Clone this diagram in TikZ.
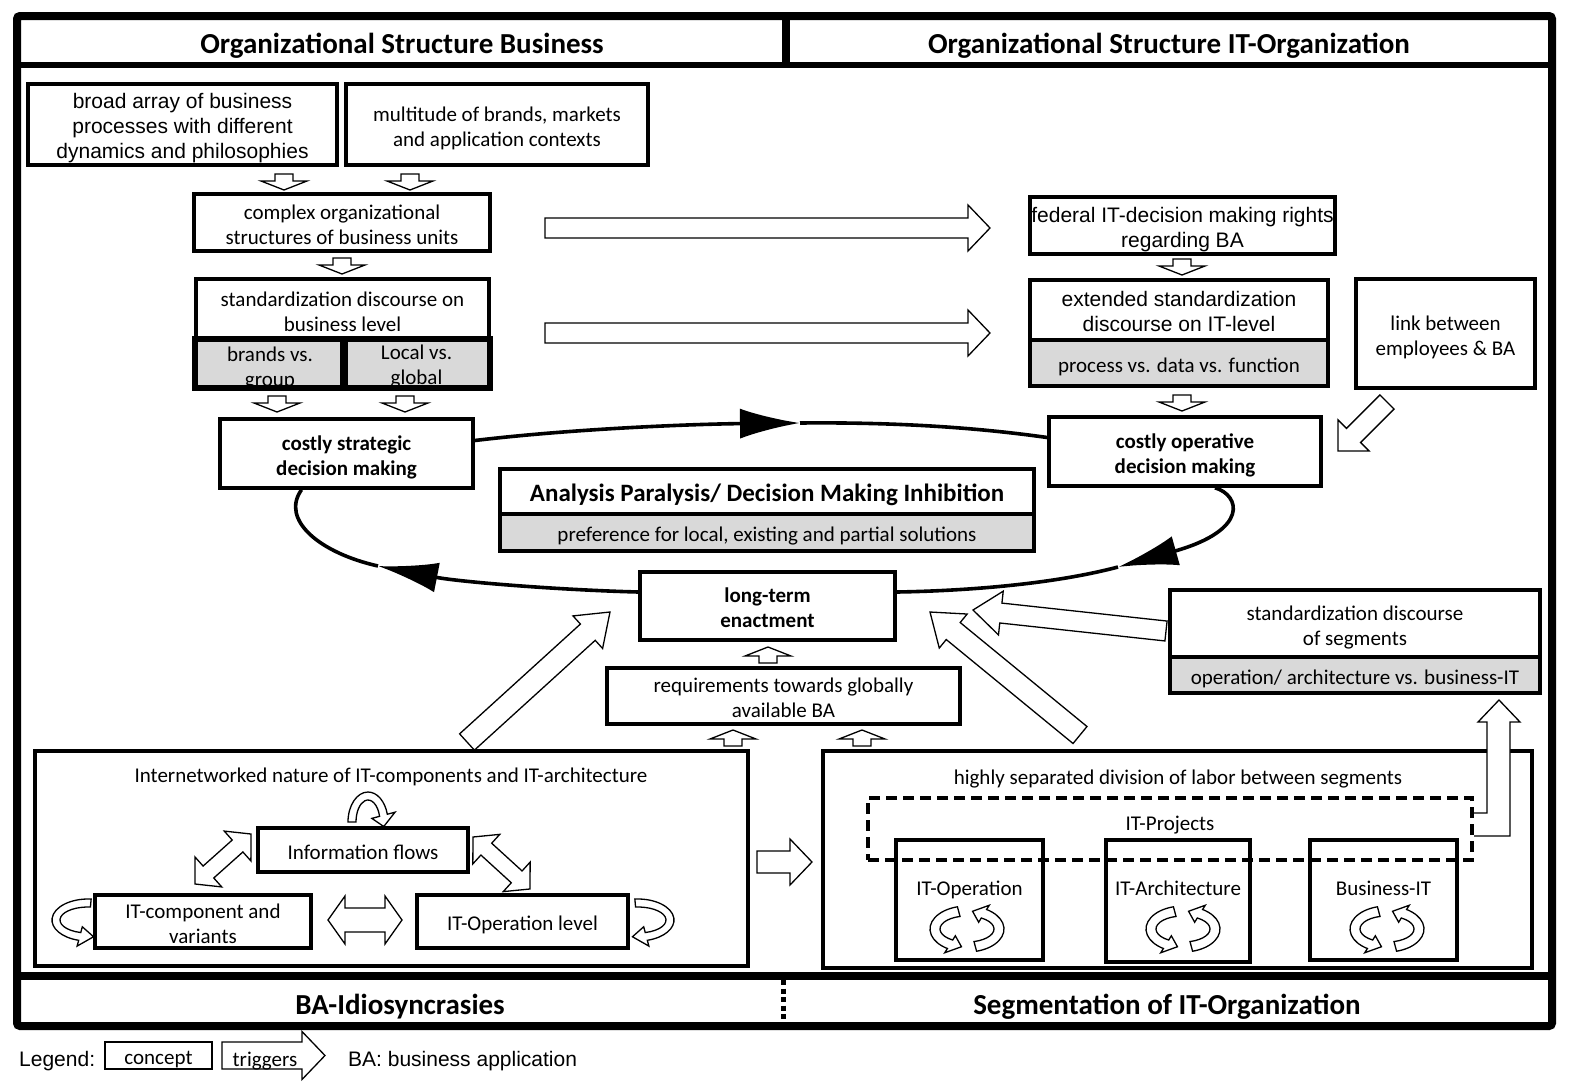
\documentclass[tikz,border=0pt]{standalone}
\usepackage{fontspec}
\setmainfont{Carlito}
\newfontfamily\arialf{Liberation Sans}
\usetikzlibrary{arrows.meta,decorations.markings,calc}
\definecolor{gbg}{RGB}{217,217,217}
\newcommand\fA{\fontsize{21}{25}\selectfont}
\newcommand\fH{\bfseries\fontsize{29}{32}\selectfont}
\newcommand\dn[1]{\raisebox{-4pt}[\height][\depth]{\begin{tabular}{@{}c@{}}#1\end{tabular}}}
\tikzset{
 bx/.style={draw, line width=3.6, fill=white, inner sep=0, align=center, font=\fA},
 gbx/.style={bx, fill=gbg},
 ttl/.style={inner sep=0, align=center, font=\fA},
 loopline/.style={line width=3.6},
 barrow/.style n args={3}{decoration={markings, mark=at position 0 with {\draw[line width=1.3pt, fill=white, line join=miter] (0pt,-#1) -- ({\pgfdecoratedpathlength-#3},-#1) -- ({\pgfdecoratedpathlength-#3},-#2) -- (\pgfdecoratedpathlength,0pt) -- ({\pgfdecoratedpathlength-#3},#2) -- ({\pgfdecoratedpathlength-#3},#1) -- (0pt,#1) -- cycle;}}, postaction={decorate}},
 dbarrow/.style n args={3}{decoration={markings, mark=at position 0 with {\draw[line width=1.3pt, fill=white, line join=miter] (0pt,0pt) -- (#3,#2) -- (#3,#1) -- ({\pgfdecoratedpathlength-#3},#1) -- ({\pgfdecoratedpathlength-#3},#2) -- (\pgfdecoratedpathlength,0pt) -- ({\pgfdecoratedpathlength-#3},-#2) -- ({\pgfdecoratedpathlength-#3},-#1) -- (#3,-#1) -- (#3,-#2) -- cycle;}}, postaction={decorate}},
}
% curved hollow arrow: cx, cy, rx, ry, half thickness, start angle, end angle, tip delta, head ext
\newcommand{\carr}[9]{%
 \begin{scope}[shift={(#1,#2)}]
 \draw[line width=1.3, fill=white]
   (#6:{#3+#5} and {#4+#5}) arc[start angle=#6, end angle=#7, x radius={#3+#5}, y radius={#4+#5}]
   -- (#7:{#3+#5+#9} and {#4+#5+#9})
   -- ({#7+#8}:#3 and #4)
   -- (#7:{#3-#5-#9} and {#4-#5-#9})
   -- (#7:{#3-#5} and {#4-#5})
   arc[start angle=#7, end angle=#6, x radius={#3-#5}, y radius={#4-#5}] -- cycle;
 \end{scope}}
\newcommand{\cyc}[2]{%
 \carr{#1}{#2}{32}{18}{5}{105}{238}{22}{5}
 \carr{#1}{#2}{32}{18}{5}{-75}{58}{22}{5}}
\begin{document}
\begin{tikzpicture}[x=1pt,y=1pt]
\useasboundingbox (0,0) rectangle (1569,-1084);
\fill[white] (0,0) rectangle (1569,-1084);
% frame
\draw[line width=8, rounded corners=3] (17,-16) rectangle (1552,-1026);
\draw[line width=6] (17,-65) -- (1552,-65);
\draw[line width=8] (786,-16) -- (786,-65);
\draw[line width=8] (17,-976) -- (1552,-976);
\draw[line width=5, dash pattern=on 5 off 3.5] (783,-980) -- (783,-1022);
\node[inner sep=0, font=\fH] (h1) at (402,-43) {\dn{Organizational Structure Business}};
\node[inner sep=0, font=\fH] (h2) at (1169,-43) {\dn{Organizational Structure IT-Organization}};
\node[inner sep=0, font=\fH] (h3) at (400,-1004) {\dn{BA-Idiosyncrasies}};
\node[inner sep=0, font=\fH] (h4) at (1167,-1004) {\dn{Segmentation of IT-Organization}};

% business side
\node[bx, font=\arialf\fA, minimum width=309, minimum height=81] (b1) at (182.5,-124.5) {\dn{broad array of business\\processes with different\\dynamics and philosophies}};
\node[bx, minimum width=302, minimum height=81] (b2) at (497,-124.5) {\dn{multitude of brands, markets\\and application contexts}};
\node[bx, minimum width=296, minimum height=57] (b3) at (342,-222.5) {\dn{complex organizational\\structures of business units}};
\node[bx, minimum width=293, minimum height=61] (b4) at (342.5,-309.5) {\dn{standardization discourse on\\business level}};
\node[gbx, minimum width=148, minimum height=47] (b4l) at (270,-363.5) {};
\node[gbx, minimum width=145, minimum height=47] (b4r) at (416.5,-363.5) {};
\begin{scope}
\clip (b4l.south west) rectangle (b4r.north east);
\node[ttl] (t4l) at (270,-369) {brands vs.\\group};
\node[ttl] (t4r) at (416.5,-367) {Local vs.\\global};
\end{scope}
\draw[line width=3.6] (b4l.south west) rectangle (b4l.north east);
\draw[line width=3.6] (b4r.south west) rectangle (b4r.north east);
\node[bx, font=\bfseries\fA, minimum width=253, minimum height=69] (b5) at (346.5,-453.5) {\dn{costly strategic\\decision making}};

% IT side
\node[bx, font=\arialf\fA, minimum width=305, minimum height=57] (b6) at (1182.5,-225.5) {\dn{federal IT-decision making rights\\regarding BA}};
\node[bx, font=\arialf\fA, minimum width=298, minimum height=60] (b7) at (1179,-310) {\dn{extended standardization\\discourse on IT-level}};
\node[gbx, minimum width=298, minimum height=46] (b7g) at (1179,-363) {\dn{process vs. data vs. function}};
\node[bx, minimum width=179, minimum height=109] (b8) at (1445.5,-333.5) {\dn{link between\\employees \& BA}};
\node[bx, font=\bfseries\fA, minimum width=272, minimum height=69] (b9) at (1185,-451.5) {\dn{costly operative\\decision making}};

% center
\node[bx, font=\bfseries\fontsize{25}{28}\selectfont, minimum width=534, minimum height=45] (b10) at (767,-491.5) {\dn{Analysis Paralysis/ Decision Making Inhibition}};
\node[gbx, minimum width=534, minimum height=37] (b10g) at (767,-532.5) {\dn{preference for local, existing and partial solutions}};
\node[bx, font=\bfseries\fA, minimum width=255, minimum height=68] (b11) at (767.5,-606) {\dn{long-term\\enactment}};
\node[bx, minimum width=353, minimum height=56] (b12) at (783.5,-696) {\dn{requirements towards globally\\available BA}};
\node[bx, minimum width=370, minimum height=67] (b13) at (1355,-623.5) {\dn{standardization discourse\\of segments}};
\node[gbx, minimum width=370, minimum height=36] (b13g) at (1355,-675) {\dn{operation/ architecture vs. business-IT}};

% loop
\draw[loopline, -{Latex[length=60pt,width=30pt]}] ([yshift=13]b5.east) .. controls (580,-428) and (700,-424) .. (800,-423);
\draw[loopline] (800,-423) .. controls (900,-422) and (980,-428) .. ([yshift=14]b9.west);
\draw[loopline, -{Latex[length=60pt,width=30pt]}] ([xshift=30]b9.south) .. controls (1240,-495) and (1250,-530) .. (1118,-567);
\draw[loopline] (1118,-567) .. controls (1050,-585) and (960,-591) .. ([yshift=14]b11.east);
\draw[loopline, -{Latex[length=60pt,width=30pt]}] ([yshift=14]b11.west) .. controls (560,-590) and (460,-582) .. (378,-566);
\draw[loopline] (378,-566) .. controls (320,-553) and (280,-520) .. ([xshift=-45]b5.south);

% bottom left box
\node[draw, line width=3.4, minimum width=713, minimum height=215] (L) at (391.5,-858.5) {};
\node[ttl] (Lt) at (391,-773) {\dn{Internetworked nature of IT-components and IT-architecture}};
\node[bx, minimum width=210, minimum height=44] (inf) at (363,-850) {\dn{Information flows}};
\node[bx, minimum width=216, minimum height=53] (itc) at (203,-921.5) {\dn{IT-component and\\variants}};
\node[bx, minimum width=211, minimum height=53] (ito) at (522.5,-921.5) {\dn{IT-Operation level}};
\carr{368}{-822}{16}{26}{4}{180}{15}{-25}{8}
\carr{88}{-920}{32}{17}{4}{85}{255}{25}{6}
\carr{638}{-920}{32}{17}{4}{95}{-75}{-25}{6}
\path[dbarrow={8pt}{20pt}{18pt}] (195,-884) -- (251,-834);
\path[dbarrow={8pt}{20pt}{18pt}] (473,-837) -- (530,-889);
\path[dbarrow={12pt}{24pt}{17pt}] (328,-920) -- (402,-920);

% bottom right box
\node[draw, line width=3.4, minimum width=709, minimum height=217] (R) at (1177.5,-859.5) {};
\node[ttl] (Rt) at (1178,-775) {\dn{highly separated division of labor between segments}};
\node[bx, minimum width=147, minimum height=120] (s1) at (969.5,-900) {};
\node[bx, minimum width=144, minimum height=122] (s2) at (1178,-901) {};
\node[bx, minimum width=147, minimum height=120] (s3) at (1383.5,-900) {};
\node[draw, line width=3.6, dash pattern=on 11 off 6, minimum width=604, minimum height=62] (D) at (1170,-829) {};
\node[ttl] (Dt) at (1170,-821) {\dn{IT-Projects}};
\node[ttl] (s1t) at (969.5,-886) {\dn{IT-Operation}};
\node[ttl] (s2t) at (1178,-886) {\dn{IT-Architecture}};
\node[ttl] (s3t) at (1383.5,-886) {\dn{Business-IT}};
\cyc{967}{-929}
\cyc{1183}{-929}
\cyc{1387}{-929}
\draw[line width=1.3, fill=white, line join=miter] (1474,-813) -- (1487,-813) -- (1487,-722) -- (1478,-722) -- (1499,-700) -- (1520,-722) -- (1510,-722) -- (1510,-836) -- (1474,-836);

% trigger arrows
\path[barrow={9pt}{23pt}{9pt}] (284,-174) -- (284,-190);
\path[barrow={9pt}{23pt}{9pt}] (410,-174) -- (410,-190);
\path[barrow={9pt}{23pt}{9pt}] (342,-258) -- (342,-274);
\path[barrow={9pt}{23pt}{9pt}] (277,-396) -- (277,-412);
\path[barrow={9pt}{23pt}{9pt}] (405,-396) -- (405,-412);
\path[barrow={9pt}{23pt}{9pt}] (1182,-259) -- (1182,-275);
\path[barrow={9pt}{23pt}{9pt}] (1182,-395) -- (1182,-411);
\path[barrow={9pt}{23pt}{9pt}] (768,-663) -- (768,-647);
\path[barrow={9pt}{23pt}{9pt}] (733,-746) -- (733,-730);
\path[barrow={9pt}{23pt}{9pt}] (862,-746) -- (862,-730);
\path[barrow={10pt}{23pt}{22pt}] (545,-228) -- (990,-228);
\path[barrow={10pt}{23pt}{22pt}] (545,-333) -- (990,-333);
\path[barrow={10pt}{22pt}{22pt}] (1387,-402) -- (1338,-451);
\path[barrow={10pt}{22pt}{28pt}] (1166,-631) -- (973,-610);
\path[barrow={11pt}{22pt}{30pt}] (467,-742) -- (610,-612);
\path[barrow={11pt}{22pt}{30pt}] (1080,-735) -- (930,-612);
\path[barrow={11pt}{23pt}{22pt}] (757,-862) -- (812,-862);

% legend
\node[inner sep=0, anchor=west, font=\arialf\fA] (lg) at (19,-1057) {\dn{Legend:}};
\node[draw, line width=1.3, minimum width=107, minimum height=27, inner sep=0, font=\fA] (lc) at (158.5,-1055.5) {\dn{concept}};
\path[barrow={13.5pt}{24pt}{23pt}] (222,-1055.5) -- (325,-1055.5);
\node[ttl] (lt) at (265,-1057) {\dn{triggers}};
\node[inner sep=0, anchor=west, font=\arialf\fA] (lb) at (348,-1057) {\dn{BA: business application}};
\end{tikzpicture}
\end{document}
